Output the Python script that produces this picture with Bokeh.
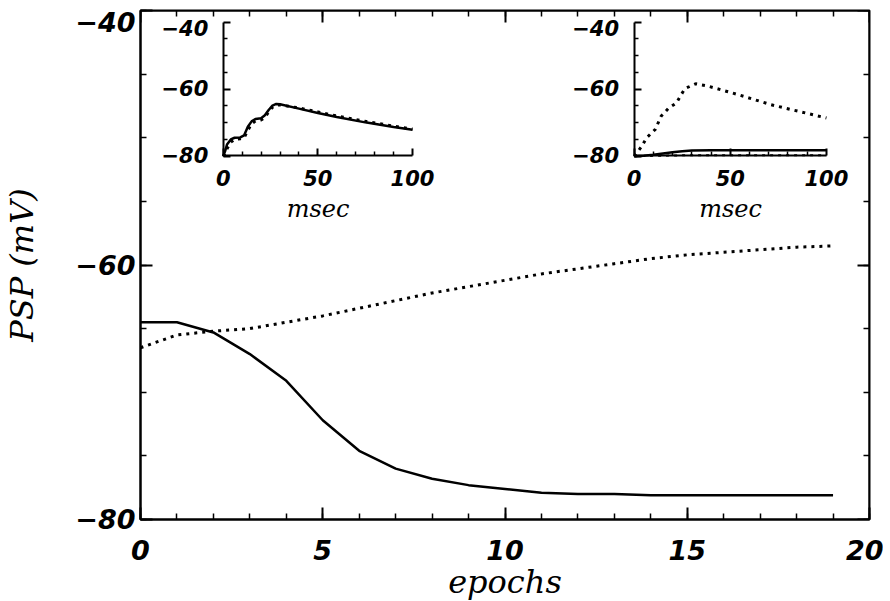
from bokeh.plotting import figure
from bokeh.models import Range1d, LinearAxis, SingleIntervalTicker, FixedTicker
from bokeh.embed import file_html
from bokeh.resources import INLINE

# ---------------- data ----------------
epochs = list(range(20))
psp_solid = [-64.5, -64.5, -65.3, -67.0, -69.1, -72.2, -74.6, -76.0, -76.8, -77.3,
             -77.6, -77.9, -78.0, -78.0, -78.1, -78.1, -78.1, -78.1, -78.1, -78.1]
psp_dotted = [-66.5, -65.5, -65.2, -65.0, -64.5, -64.0, -63.4, -62.8, -62.2, -61.7,
              -61.2, -60.7, -60.3, -59.9, -59.5, -59.2, -59.0, -58.8, -58.6, -58.5]

# left inset (before learning)
msec_a = [0, 1, 2, 4, 6, 9, 11, 13, 15, 17, 20, 22, 24, 26, 28, 30, 40, 50, 60, 75, 90, 100]
inset_a_solid = [-80, -78.5, -76.5, -75.0, -74.5, -74.4, -73.8, -71.2, -69.6, -68.9, -68.7,
                 -67.8, -66.2, -64.9, -64.4, -64.5, -65.8, -67.1, -68.3, -69.9, -71.3, -72.1]
inset_a_dotted = [-80, -79.2, -77.8, -75.8, -75.0, -74.8, -74.5, -72.3, -70.3, -69.5, -69.2,
                  -68.5, -66.8, -65.4, -64.8, -64.7, -65.6, -66.8, -68.0, -69.6, -71.0, -71.9]

# right inset (after learning)
msec_b = [0, 2, 4, 6.5, 11, 14, 18, 22, 24.5, 26.5, 32, 38.5, 54, 71, 100]
inset_b_dotted = [-80, -78.6, -77.0, -74.5, -72.0, -68.1, -65.6, -64.1, -61.6, -59.8,
                  -58.4, -59.1, -61.6, -64.6, -68.6]
msec_c = [0, 5, 10, 15, 20, 25, 30, 40, 60, 80, 100]
inset_b_solid = [-80, -79.9, -79.6, -79.2, -78.8, -78.5, -78.3, -78.2, -78.2, -78.2, -78.2]
inset_b_dotted2 = [-80, -79.95, -79.9, -79.85, -79.8, -79.75, -79.7, -79.7, -79.7, -79.7, -79.7]

# tick labels
main_x_ticks = [0, 5, 10, 15, 20]
main_x_labels = ["0", "5", "10", "15", "20"]
main_y_ticks = [-80, -60, -40]
main_y_labels = ["\u221280", "\u221260", "\n\u221240"]
inset_x_ticks = [0, 50, 100]
inset_x_labels = ["0", "50", "100"]
inset_x_minor = [10, 20, 30, 40, 60, 70, 80, 90]
inset_y_ticks = [-80, -60, -40]
inset_y_labels = ["\u221280", "\u221260", "\n\u221240"]
inset_y_minor = [-75, -70, -65, -55, -50, -45]

TICK_FONT = "DejaVu Sans"
LABEL_FONT = "DejaVu Serif"

p = figure(frame_width=729, frame_height=509,
           x_range=Range1d(0, 20), y_range=Range1d(-80, -40),
           output_backend="svg", toolbar_location=None,
           min_border_left=139, min_border_right=14,
           min_border_top=10, min_border_bottom=81)
p.grid.visible = False
p.outline_line_color = "black"
p.outline_line_width = 2
p.background_fill_color = "white"
p.border_fill_color = "white"

# inset coordinate systems
p.extra_x_ranges = {"ix1": Range1d(-43.7, 341.4), "ix2": Range1d(-256.7, 122.4)}
p.extra_y_ranges = {"iy": Range1d(-188.45, -36.51)}


def style_axis(ax, size, font=TICK_FONT, tick_major=12, tick_minor=6):
    ax.axis_line_color = "black"
    ax.axis_line_width = 2
    ax.major_tick_line_color = "black"
    ax.minor_tick_line_color = "black"
    ax.major_tick_line_width = 2
    ax.minor_tick_line_width = 1.5
    ax.major_tick_in = tick_major
    ax.major_tick_out = 0
    ax.minor_tick_in = tick_minor
    ax.minor_tick_out = 0
    ax.major_label_text_font = font
    ax.major_label_text_font_style = "bold italic"
    ax.major_label_text_font_size = size
    ax.major_label_text_color = "black"


# main x axis
xa = p.xaxis[0]
xa.ticker = SingleIntervalTicker(interval=5, num_minor_ticks=5)
style_axis(xa, "27px")
xa.major_label_overrides = dict(zip(main_x_ticks, main_x_labels))
xa.major_label_standoff = 20
xa.axis_label = "epochs"
xa.axis_label_text_font = LABEL_FONT
xa.axis_label_text_font_style = "italic"
xa.axis_label_text_font_size = "32px"
xa.axis_label_text_color = "black"
xa.axis_label_standoff = 0

# main y axis
ya = p.yaxis[0]
ya.ticker = SingleIntervalTicker(interval=20, num_minor_ticks=4)
style_axis(ya, "27px")
ya.major_label_overrides = dict(zip(main_y_ticks, main_y_labels))
ya.major_label_text_line_height = 0.2
ya.major_label_standoff = 5
ya.axis_label = "PSP (mV)"
ya.axis_label_text_font = LABEL_FONT
ya.axis_label_text_font_style = "italic"
ya.axis_label_text_font_size = "32px"
ya.axis_label_text_color = "black"
ya.axis_label_standoff = 31

# top and right frame ticks
top = LinearAxis(fixed_location=-40, ticker=SingleIntervalTicker(interval=5, num_minor_ticks=5))
style_axis(top, "27px")
top.major_label_overrides = {t: "" for t in main_x_ticks}
p.add_layout(top, "above")
right = LinearAxis(fixed_location=20, ticker=SingleIntervalTicker(interval=20, num_minor_ticks=4))
style_axis(right, "27px")
right.major_label_overrides = {t: "" for t in main_y_ticks}
p.add_layout(right, "right")

# main curves
p.line(epochs, psp_solid, line_color="black", line_width=2.5)
p.line(epochs, psp_dotted, line_color="black", line_width=3, line_dash="3 5")

# insets
for xr, xloc in (("ix1", 2.27), ("ix2", 13.54)):
    iy_ax = LinearAxis(y_range_name="iy", fixed_location=xloc, bounds=(-80, -40),
                       ticker=FixedTicker(ticks=inset_y_ticks, minor_ticks=inset_y_minor))
    style_axis(iy_ax, "21px", tick_major=7, tick_minor=4)
    iy_ax.major_label_overrides = dict(zip(inset_y_ticks, inset_y_labels))
    iy_ax.major_label_text_line_height = 0.55
    iy_ax.major_label_standoff = 15
    p.add_layout(iy_ax, "left")

    ix_ax = LinearAxis(x_range_name=xr, fixed_location=-51.43, bounds=(0, 100),
                       ticker=FixedTicker(ticks=inset_x_ticks, minor_ticks=inset_x_minor))
    style_axis(ix_ax, "21px", tick_major=7, tick_minor=4)
    ix_ax.major_label_overrides = dict(zip(inset_x_ticks, inset_x_labels))
    ix_ax.major_label_standoff = 14
    ix_ax.axis_label = "msec"
    ix_ax.axis_label_text_font = LABEL_FONT
    ix_ax.axis_label_text_font_style = "italic"
    ix_ax.axis_label_text_font_size = "24px"
    ix_ax.axis_label_text_color = "black"
    ix_ax.axis_label_standoff = 6
    p.add_layout(ix_ax, "below")

p.line(msec_a, inset_a_solid, x_range_name="ix1", y_range_name="iy",
       line_color="black", line_width=2.5)
p.line(msec_a, inset_a_dotted, x_range_name="ix1", y_range_name="iy",
       line_color="black", line_width=3, line_dash="3 5")

p.line(msec_b, inset_b_dotted, x_range_name="ix2", y_range_name="iy",
       line_color="black", line_width=3, line_dash="3 5")
p.line(msec_c, inset_b_solid, x_range_name="ix2", y_range_name="iy",
       line_color="black", line_width=2.5)
p.line(msec_c, inset_b_dotted2, x_range_name="ix2", y_range_name="iy",
       line_color="black", line_width=2, line_dash="3 5")

open("out.html", "w").write(file_html(p, INLINE))
